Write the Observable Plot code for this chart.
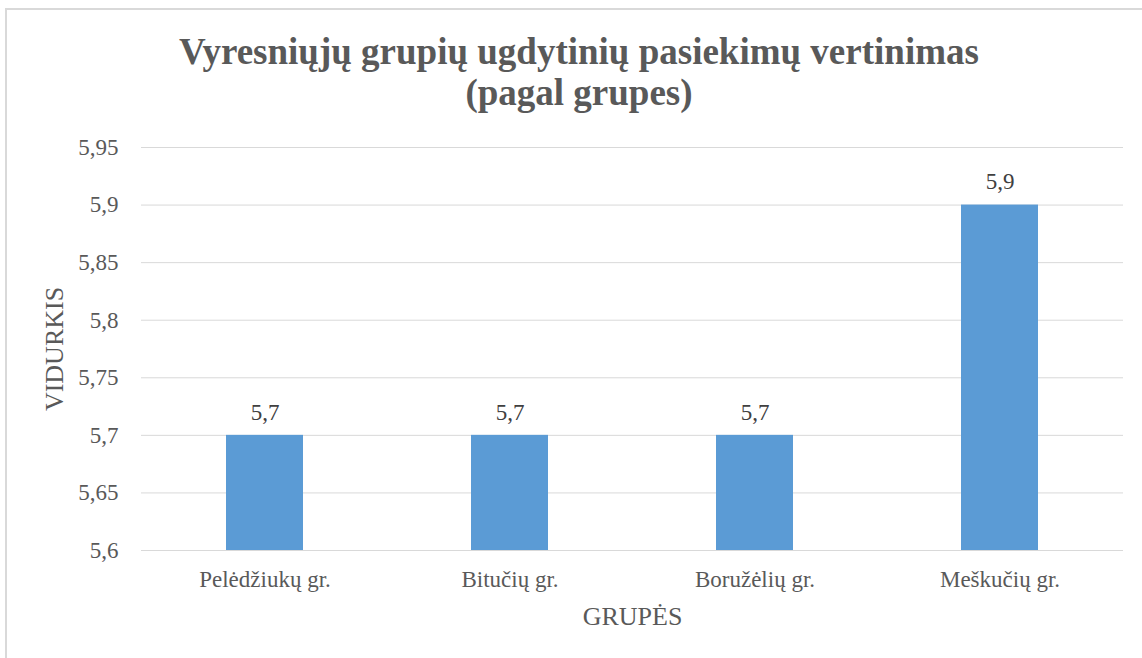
<!DOCTYPE html>
<html>
<head>
<meta charset="utf-8">
<script src="https://cdn.jsdelivr.net/npm/d3@7"></script>
<script src="https://cdn.jsdelivr.net/npm/@observablehq/plot@0.6"></script>
<style>
  html, body { margin: 0; padding: 0; background: #fff; overflow: hidden; width: 1142px; height: 658px; }
  #frame { position: absolute; left: 5px; top: 8px; width: 1160px; height: 700px; border-left: 2px solid #d9d9d9; border-top: 2px solid #d9d9d9; }
  #title { position: absolute; left: 0; top: 31px; width: 1158px; text-align: center; font-family: "Liberation Serif", "Times New Roman", serif; font-weight: bold; font-size: 37px; line-height: 41px; color: #595959; }
  #chart { position: absolute; left: 0; top: 120px; }
</style>
</head>
<body>
<div id="frame"></div>
<div id="title">Vyresniųjų grupių ugdytinių pasiekimų vertinimas<br>(pagal grupes)</div>
<div id="chart"></div>
<script>
const groups = ["Pelėdžiukų gr.", "Bitučių gr.", "Boružėlių gr.", "Meškučių gr."];
const values = [5.7, 5.7, 5.7, 5.9];
const yTicks = [5.6, 5.65, 5.7, 5.75, 5.8, 5.85, 5.9, 5.95];
const yBase = 5.6;
const yTitle = "VIDURKIS";
const xTitle = "GRUPĖS";

const data = groups.map((g, i) => ({group: g, value: values[i]}));
const fmt = d => String(d).replace(".", ",");

const chart = Plot.plot({
  width: 1142,
  height: 538,
  marginTop: 27,
  marginBottom: 108,
  marginLeft: 141,
  marginRight: 19,
  style: {fontFamily: '"Liberation Serif", "Times New Roman", serif', fontSize: "23px", color: "#595959", background: "transparent"},
  x: {domain: groups, paddingInner: 0.686, paddingOuter: 0.343, label: null},
  y: {domain: [5.6, 5.95], label: null},
  marks: [
    Plot.gridY(yTicks, {stroke: "#d9d9d9", strokeOpacity: 1, strokeWidth: 1}),
    Plot.barY(data, {x: "group", y1: yBase, y2: "value", fill: "#5b9bd5"}),
    Plot.text(data, {x: "group", y: "value", text: d => fmt(d.value), dy: -23, fill: "#404040", fontSize: 23}),
    Plot.axisY(yTicks, {tickSize: 0, tickPadding: 23, tickFormat: fmt, label: null}),
    Plot.axisX({tickSize: 0, tickPadding: 20, label: null}),
    Plot.text([xTitle], {frameAnchor: "bottom", lineAnchor: "middle", textAnchor: "middle", dy: 66, fontSize: 26}),
    Plot.text([yTitle], {frameAnchor: "left", textAnchor: "middle", lineAnchor: "middle", rotate: -90, dx: -87, fontSize: 26})
  ]
});
document.getElementById("chart").appendChild(chart);
</script>
</body>
</html>
